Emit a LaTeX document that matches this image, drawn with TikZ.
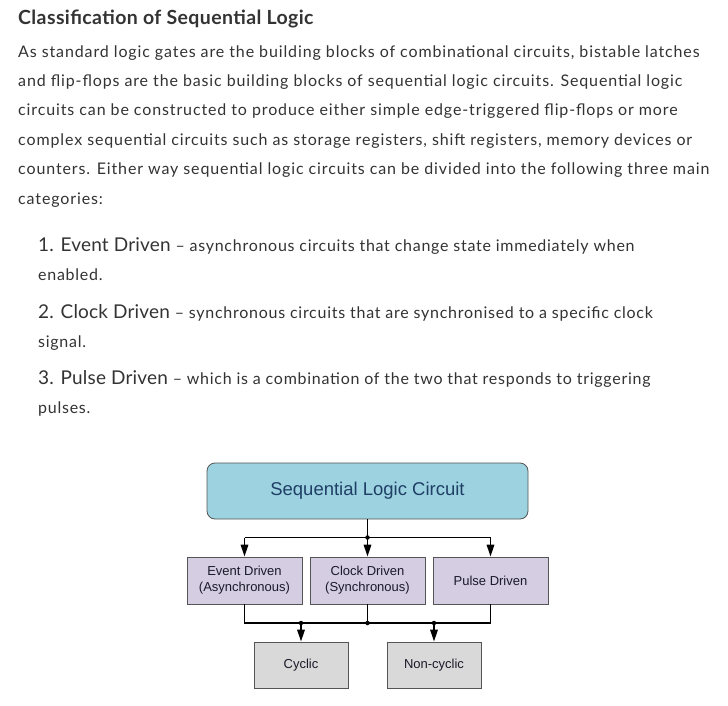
\documentclass[tikz,border=0pt]{standalone}
\usepackage{fontspec}
\setmainfont{Lato}
\newfontfamily\bodyfont[LetterSpace=5.5]{Lato}
\newfontfamily\listfont[LetterSpace=4.6]{Lato}
\newfontfamily\headfont[LetterSpace=2]{Lato}
\newfontfamily\bigfont[LetterSpace=1]{Lato}
\newfontfamily\arial{Liberation Sans}
\usetikzlibrary{arrows.meta}
\definecolor{bodytxt}{HTML}{333333}
\definecolor{topfill}{HTML}{9DD3E0}
\definecolor{midfill}{HTML}{D5CDE1}
\definecolor{botfill}{HTML}{D9D9D9}
\definecolor{boxline}{HTML}{555555}
\definecolor{toptxt}{HTML}{1F3F66}
\definecolor{boxtxt}{HTML}{1A1A2A}
\newcommand{\bignum}[1]{{\bigfont\fontsize{19}{22}\selectfont #1}}
\tikzset{
  line/.style={anchor=base west, inner sep=0pt, text=bodytxt, font=\bodyfont\fontsize{16}{19}\selectfont},
  item/.style={anchor=base west, inner sep=0pt, text=bodytxt, font=\listfont\fontsize{16}{19}\selectfont},
  head/.style={anchor=base west, inner sep=0pt, text=bodytxt, font=\headfont\fontsize{19.5}{22}\selectfont\bfseries},
  topbox/.style={draw=boxline, line width=0.8pt, fill=topfill, rounded corners=8pt, minimum width=321pt, minimum height=56pt, inner sep=0pt, text=toptxt, font=\arial\fontsize{18.5}{22}\selectfont},
  midbox/.style={draw=boxline, line width=0.8pt, fill=midfill, minimum width=115pt, minimum height=47pt, inner sep=0pt, align=center, text=boxtxt, font=\arial\fontsize{13}{16}\selectfont},
  botbox/.style={draw=boxline, line width=0.8pt, fill=botfill, minimum width=94pt, minimum height=46pt, inner sep=0pt, text=boxtxt, font=\arial\fontsize{13}{16}\selectfont},
  wire/.style={draw=black, line width=1.6pt},
  arr/.style={wire, -{Triangle[length=12pt,width=7.5pt]}},
  dot/.style={circle, fill=black, inner sep=0pt, minimum size=4.5pt}
}
\begin{document}
\begin{tikzpicture}[x=1pt,y=-1pt]
\useasboundingbox (0,0) rectangle (728,706);
\fill[white] (0,0) rectangle (728,706);
% text
\node[head] (h) at (18,25) {Classification of Sequential Logic};
\node[line] (l1) at (18,58) {As standard logic gates are the building blocks of combinational circuits, bistable latches};
\node[line] (l2) at (18,87) {and flip-flops are the basic building blocks of sequential logic circuits. Sequential logic};
\node[line] (l3) at (18,116) {circuits can be constructed to produce either simple edge-triggered flip-flops or more};
\node[line] (l4) at (18,146) {complex sequential circuits such as storage registers, shift registers, memory devices or};
\node[line] (l5) at (18,175) {counters. Either way sequential logic circuits can be divided into the following three main};
\node[line] (l6) at (18,204) {categories:};
\node[item] (i1) at (38,251) {\bignum{1. Event Driven} – asynchronous circuits that change state immediately when};
\node[item] (i1b) at (38,280) {enabled.};
\node[item] (i2) at (38,318) {\bignum{2. Clock Driven} – synchronous circuits that are synchronised to a specific clock};
\node[item] (i2b) at (38,347) {signal.};
\node[item] (i3) at (38,384) {\bignum{3. Pulse Driven} – which is a combination of the two that responds to triggering};
\node[item] (i3b) at (38,413) {pulses.};
% diagram
\node[topbox] (top) at (367.5,491) {Sequential Logic Circuit};
\node[midbox] (event) at (244.5,580.5) {Event Driven\\(Asynchronous)};
\node[midbox] (clock) at (367.5,580.5) {Clock Driven\\(Synchronous)};
\node[midbox] (pulse) at (490.5,580.5) {Pulse Driven};
\node[botbox] (cyc) at (301,665) {Cyclic};
\node[botbox] (noncyc) at (434,665) {Non-cyclic};
\coordinate (j1) at (367.5,537.5);
\coordinate (j2) at (367.5,623);
\draw[wire] (top.south) -- (j1);
\draw[wire] (event.north |- j1) -- (pulse.north |- j1);
\draw[arr] (event.north |- j1) -- (event.north);
\draw[arr] (j1) -- (clock.north);
\draw[arr] (pulse.north |- j1) -- (pulse.north);
\draw[wire] (event.south) -- (event.south |- j2) -- (pulse.south |- j2) -- (pulse.south);
\draw[wire] (clock.south) -- (j2);
\draw[arr] (cyc.north |- j2) -- (cyc.north);
\draw[arr] (noncyc.north |- j2) -- (noncyc.north);
\node[dot] (d1) at (j1) {};
\node[dot] (d2) at (j2) {};
\node[dot] (d3) at (cyc.north |- j2) {};
\node[dot] (d4) at (noncyc.north |- j2) {};
\end{tikzpicture}
\end{document}
